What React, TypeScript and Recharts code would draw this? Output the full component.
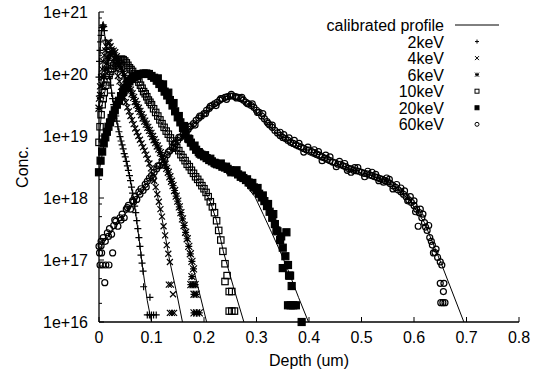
import React from "react";
import { ScatterChart, Scatter, XAxis, YAxis, Legend } from "recharts";

const FONT = "'Liberation Sans', Arial, Helvetica, sans-serif";
const INK = "#000";

const X_TICKS = [0, 0.1, 0.2, 0.3, 0.4, 0.5, 0.6, 0.7, 0.8];
const X_LABELS = ["0", "0.1", "0.2", "0.3", "0.4", "0.5", "0.6", "0.7", "0.8"];
const Y_MAJOR = [1e16, 1e17, 1e18, 1e19, 1e20, 1e21];
const Y_LABELS = ["1e+16", "1e+17", "1e+18", "1e+19", "1e+20", "1e+21"];
const Y_MINOR = [
  2e16, 5e16, 8e16, 2e17, 5e17, 8e17, 2e18, 5e18, 8e18,
  2e19, 5e19, 8e19, 2e20, 5e20, 8e20,
];

// measured points: [depth um, concentration]
const KEV2: [number, number][] = [
  [0.000, 8.9e19], [0.001, 1.6e20], [0.002, 2.4e20], [0.003, 3.3e20], [0.004, 4.2e20],
  [0.005, 5.0e20], [0.006, 5.6e20], [0.007, 6.0e20], [0.008, 6.2e20], [0.009, 5.8e20],
  [0.010, 5.0e20], [0.012, 3.5e20], [0.014, 2.5e20], [0.016, 1.8e20], [0.018, 1.26e20],
  [0.020, 9.1e19], [0.022, 6.6e19], [0.024, 4.9e19], [0.026, 4.0e19], [0.028, 3.2e19],
  [0.030, 2.6e19], [0.032, 2.1e19], [0.034, 1.74e19], [0.036, 1.41e19], [0.038, 1.17e19],
  [0.040, 9.8e18], [0.042, 8.3e18], [0.044, 7.2e18], [0.046, 6.2e18], [0.048, 5.2e18],
  [0.050, 4.6e18], [0.052, 3.9e18], [0.054, 3.3e18], [0.056, 2.8e18], [0.058, 2.3e18],
  [0.060, 1.9e18], [0.062, 1.5e18], [0.064, 1.2e18], [0.066, 9.5e17], [0.068, 7.4e17],
  [0.070, 5.8e17], [0.072, 4.3e17], [0.074, 3.2e17], [0.076, 2.3e17], [0.078, 1.66e17],
  [0.080, 1.2e17], [0.082, 8.9e16], [0.084, 6.6e16], [0.085, 3.7e16], [0.097, 2.5e16],
  [0.092, 1.3e16], [0.096, 1.3e16], [0.100, 1.3e16], [0.104, 1.3e16], [0.109, 1.3e16],
];

const KEV4: [number, number][] = [
  [0.000, 4.0e19], [0.002, 6.3e19], [0.004, 8.9e19], [0.006, 1.2e20], [0.008, 1.6e20],
  [0.010, 2.0e20], [0.012, 2.4e20], [0.014, 2.8e20], [0.016, 3.2e20], [0.018, 3.3e20],
  [0.020, 3.2e20], [0.022, 2.8e20], [0.024, 2.5e20], [0.026, 2.1e20], [0.028, 1.8e20],
  [0.030, 1.5e20], [0.033, 1.17e20], [0.036, 9.3e19], [0.039, 7.6e19], [0.042, 6.2e19],
  [0.045, 5.0e19], [0.048, 4.2e19], [0.051, 3.5e19], [0.054, 2.9e19], [0.057, 2.5e19],
  [0.060, 2.1e19], [0.063, 1.8e19], [0.066, 1.55e19], [0.069, 1.32e19], [0.072, 1.15e19],
  [0.075, 1.0e19], [0.078, 8.7e18], [0.081, 7.6e18], [0.084, 6.6e18], [0.087, 5.8e18],
  [0.090, 5.0e18], [0.093, 4.3e18], [0.096, 3.6e18], [0.099, 3.0e18], [0.102, 2.4e18],
  [0.105, 1.9e18], [0.108, 1.5e18], [0.111, 1.15e18], [0.114, 8.7e17], [0.117, 6.6e17],
  [0.120, 5.0e17], [0.123, 3.5e17], [0.126, 2.5e17], [0.129, 1.74e17], [0.132, 1.26e17],
  [0.135, 9.3e16], [0.133, 4.0e16], [0.137, 4.0e16], [0.141, 2.8e16], [0.135, 1.4e16],
  [0.139, 1.4e16], [0.143, 1.4e16],
];

const KEV6: [number, number][] = [
  [0.000, 2.8e19], [0.003, 4.5e19], [0.006, 6.6e19], [0.009, 9.1e19], [0.012, 1.2e20],
  [0.015, 1.5e20], [0.018, 1.8e20], [0.021, 2.1e20], [0.024, 2.3e20], [0.027, 2.34e20],
  [0.030, 2.2e20], [0.033, 1.9e20], [0.036, 1.66e20], [0.039, 1.45e20], [0.042, 1.26e20],
  [0.045, 1.1e20], [0.048, 9.5e19], [0.051, 8.3e19], [0.054, 7.2e19], [0.057, 6.3e19],
  [0.060, 5.5e19], [0.063, 4.8e19], [0.066, 4.2e19], [0.069, 3.6e19], [0.072, 3.2e19],
  [0.075, 2.8e19], [0.078, 2.5e19], [0.081, 2.2e19], [0.084, 1.95e19], [0.087, 1.74e19],
  [0.090, 1.55e19], [0.093, 1.38e19], [0.096, 1.23e19], [0.099, 1.1e19], [0.102, 9.8e18],
  [0.105, 8.7e18], [0.108, 7.8e18], [0.111, 6.9e18], [0.114, 6.2e18], [0.117, 5.4e18],
  [0.120, 4.7e18], [0.123, 4.1e18], [0.126, 3.5e18], [0.129, 3.0e18], [0.132, 2.6e18],
  [0.135, 2.2e18], [0.138, 1.86e18], [0.141, 1.58e18], [0.144, 1.32e18], [0.147, 1.07e18],
  [0.150, 8.9e17], [0.153, 7.2e17], [0.156, 5.8e17], [0.159, 4.6e17], [0.162, 3.6e17],
  [0.165, 2.8e17], [0.168, 2.2e17], [0.171, 1.66e17], [0.174, 1.26e17], [0.177, 9.5e16],
  [0.180, 7.2e16], [0.177, 5.4e16], [0.175, 4.0e16], [0.179, 4.0e16], [0.183, 4.0e16],
  [0.181, 2.8e16], [0.185, 2.8e16], [0.181, 1.4e16], [0.186, 1.4e16], [0.191, 1.4e16],
];

const KEV10: [number, number][] = [
  [0.000, 7.9e18], [0.002, 1.41e19], [0.004, 2.2e19], [0.006, 3.2e19], [0.008, 4.0e19],
  [0.010, 5.0e19], [0.013, 6.6e19], [0.016, 8.1e19], [0.019, 9.5e19], [0.022, 1.1e20],
  [0.025, 1.23e20], [0.028, 1.35e20], [0.031, 1.48e20], [0.034, 1.58e20], [0.037, 1.66e20],
  [0.040, 1.7e20], [0.043, 1.74e20], [0.046, 1.7e20], [0.049, 1.62e20], [0.052, 1.51e20],
  [0.055, 1.38e20], [0.058, 1.26e20], [0.061, 1.18e20], [0.064, 1.1e20], [0.067, 1.0e20],
  [0.070, 9.1e19], [0.073, 8.3e19], [0.076, 7.4e19], [0.079, 6.6e19], [0.082, 5.9e19],
  [0.085, 5.2e19], [0.088, 4.8e19], [0.091, 4.3e19], [0.094, 3.8e19], [0.097, 3.5e19],
  [0.100, 3.2e19], [0.104, 2.75e19], [0.108, 2.4e19], [0.112, 2.1e19], [0.116, 1.82e19],
  [0.120, 1.58e19], [0.124, 1.38e19], [0.128, 1.2e19], [0.132, 1.07e19], [0.136, 9.3e18],
  [0.140, 8.3e18], [0.144, 7.2e18], [0.148, 6.5e18], [0.152, 5.8e18], [0.156, 5.0e18],
  [0.160, 4.5e18], [0.164, 4.0e18], [0.168, 3.5e18], [0.172, 3.2e18], [0.176, 2.8e18],
  [0.180, 2.5e18], [0.184, 2.2e18], [0.188, 2.0e18], [0.192, 1.78e18], [0.196, 1.58e18],
  [0.200, 1.41e18], [0.204, 1.23e18], [0.208, 1.05e18], [0.212, 8.7e17], [0.216, 7.2e17],
  [0.220, 5.8e17], [0.224, 4.3e17], [0.228, 3.0e17], [0.232, 2.1e17], [0.236, 1.38e17],
  [0.240, 8.7e16], [0.240, 4.5e16], [0.244, 5.6e16], [0.248, 3.1e16], [0.253, 3.1e16],
  [0.248, 1.5e16], [0.253, 1.5e16], [0.258, 1.5e16],
];

const KEV20: [number, number][] = [
  [0.000, 2.6e18], [0.003, 4.0e18], [0.006, 5.6e18], [0.009, 7.6e18], [0.012, 9.5e18],
  [0.015, 1.17e19], [0.018, 1.41e19], [0.021, 1.66e19], [0.024, 1.95e19], [0.027, 2.2e19],
  [0.030, 2.6e19], [0.034, 3.2e19], [0.038, 3.7e19], [0.042, 4.4e19], [0.046, 5.1e19],
  [0.050, 5.9e19], [0.054, 6.8e19], [0.058, 7.6e19], [0.062, 8.3e19], [0.066, 8.9e19],
  [0.070, 9.3e19], [0.075, 9.8e19], [0.080, 1.0e20], [0.085, 1.02e20], [0.090, 1.02e20],
  [0.095, 1.0e20], [0.100, 9.3e19], [0.105, 8.7e19], [0.110, 7.8e19], [0.115, 6.9e19],
  [0.120, 6.0e19], [0.125, 5.2e19], [0.130, 4.5e19], [0.135, 3.8e19], [0.140, 3.1e19],
  [0.145, 2.5e19], [0.150, 2.0e19], [0.155, 1.66e19], [0.160, 1.35e19], [0.165, 1.1e19],
  [0.170, 9.1e18], [0.175, 7.8e18], [0.180, 6.8e18], [0.185, 6.0e18], [0.190, 5.5e18],
  [0.195, 5.0e18], [0.200, 4.7e18], [0.205, 4.4e18], [0.210, 4.1e18], [0.215, 3.9e18],
  [0.220, 3.7e18], [0.225, 3.5e18], [0.230, 3.4e18], [0.235, 3.2e18], [0.240, 3.1e18],
  [0.245, 2.95e18], [0.250, 2.8e18], [0.255, 2.7e18], [0.260, 2.6e18], [0.265, 2.4e18],
  [0.270, 2.2e18], [0.275, 2.1e18], [0.280, 1.95e18], [0.285, 1.78e18], [0.290, 1.62e18],
  [0.295, 1.48e18], [0.300, 1.32e18], [0.305, 1.17e18], [0.310, 1.02e18], [0.315, 8.9e17],
  [0.320, 7.4e17], [0.325, 6.0e17], [0.330, 4.8e17], [0.335, 3.8e17], [0.340, 2.9e17],
  [0.345, 2.1e17], [0.350, 1.58e17], [0.355, 1.15e17], [0.360, 8.3e16], [0.364, 5.6e16],
  [0.367, 3.8e16], [0.357, 2.8e17], [0.350, 7.4e16], [0.362, 5.6e16], [0.360, 1.86e16],
  [0.365, 1.86e16], [0.370, 1.86e16], [0.375, 1.86e16], [0.386, 1.0e16],
  [0.112, 8.5e19], [0.122, 6.8e19], [0.132, 5.0e19], [0.142, 3.4e19], [0.152, 2.1e19],
  [0.162, 1.45e19], [0.172, 8.9e18], [0.182, 7.0e18], [0.192, 5.2e18], [0.202, 4.9e18],
  [0.212, 4.3e18], [0.222, 3.6e18], [0.232, 3.6e18], [0.242, 3.2e18], [0.252, 2.6e18],
  [0.262, 2.8e18], [0.272, 2.3e18], [0.282, 2.0e18], [0.292, 1.75e18], [0.302, 1.45e18],
  [0.312, 1.1e18], [0.322, 8.0e17], [0.332, 5.5e17], [0.338, 3.0e17], [0.347, 2.4e17],
];

const KEV60: [number, number][] = [
  [0.002, 8.3e16], [0.007, 8.3e16], [0.013, 8.3e16], [0.019, 8.3e16], [0.001, 1.3e17],
  [0.005, 1.3e17], [0.026, 1.3e17], [0.011, 4.3e16], [0.004, 1.7e17],
  [0.000, 1.66e17], [0.004, 2.0e17], [0.008, 2.3e17], [0.012, 2.0e17], [0.016, 2.75e17],
  [0.020, 3.2e17], [0.024, 2.6e17], [0.028, 3.6e17], [0.032, 4.2e17], [0.036, 3.5e17],
  [0.040, 4.8e17], [0.044, 5.5e17], [0.048, 4.8e17], [0.052, 6.6e17], [0.056, 7.6e17],
  [0.060, 6.6e17], [0.064, 9.1e17], [0.068, 1.05e18], [0.072, 9.5e17], [0.076, 1.26e18],
  [0.080, 1.41e18], [0.084, 1.32e18], [0.088, 1.66e18], [0.092, 1.86e18], [0.096, 2.1e18],
  [0.100, 2.3e18], [0.105, 2.6e18], [0.110, 2.95e18], [0.115, 3.3e18], [0.120, 3.8e18],
  [0.125, 4.3e18], [0.130, 5.0e18], [0.135, 5.8e18], [0.140, 6.6e18], [0.145, 7.6e18],
  [0.150, 8.5e18], [0.155, 9.5e18], [0.160, 1.05e19], [0.165, 1.15e19], [0.170, 1.29e19],
  [0.175, 1.45e19], [0.180, 1.58e19], [0.185, 1.78e19], [0.190, 1.95e19], [0.195, 2.1e19],
  [0.200, 2.3e19], [0.205, 2.6e19], [0.210, 2.8e19], [0.215, 3.1e19], [0.220, 3.3e19],
  [0.225, 3.5e19], [0.230, 3.8e19], [0.235, 4.0e19], [0.240, 4.2e19], [0.245, 4.3e19],
  [0.250, 4.4e19], [0.255, 4.4e19], [0.260, 4.3e19], [0.265, 4.2e19], [0.270, 4.0e19],
  [0.275, 3.8e19], [0.280, 3.5e19], [0.285, 3.3e19], [0.290, 3.1e19], [0.295, 2.9e19],
  [0.300, 2.6e19], [0.305, 2.4e19], [0.310, 2.1e19], [0.315, 1.9e19], [0.320, 1.7e19],
  [0.325, 1.5e19], [0.330, 1.38e19], [0.335, 1.23e19], [0.340, 1.12e19], [0.345, 1.02e19],
  [0.350, 9.5e18], [0.355, 9.1e18], [0.360, 8.5e18], [0.365, 7.9e18], [0.370, 7.6e18],
  [0.375, 7.2e18], [0.380, 6.9e18], [0.385, 6.6e18], [0.390, 6.3e18], [0.395, 6.0e18],
  [0.400, 5.9e18], [0.405, 5.6e18], [0.410, 5.4e18], [0.415, 5.1e18], [0.420, 4.9e18],
  [0.425, 4.6e18], [0.430, 4.4e18], [0.435, 4.2e18], [0.440, 4.0e18], [0.445, 3.8e18],
  [0.450, 3.7e18], [0.455, 3.5e18], [0.460, 3.5e18], [0.465, 3.3e18], [0.470, 3.2e18],
  [0.475, 3.0e18], [0.480, 2.95e18], [0.485, 2.8e18], [0.490, 2.75e18], [0.495, 2.7e18],
  [0.500, 2.6e18], [0.505, 2.5e18], [0.510, 2.45e18], [0.515, 2.35e18], [0.520, 2.3e18],
  [0.525, 2.2e18], [0.530, 2.15e18], [0.535, 2.05e18], [0.540, 2.0e18], [0.545, 1.9e18],
  [0.550, 1.82e18], [0.555, 1.7e18], [0.560, 1.58e18], [0.565, 1.48e18], [0.570, 1.35e18],
  [0.575, 1.26e18], [0.580, 1.15e18], [0.585, 1.05e18], [0.590, 9.3e17], [0.595, 8.5e17],
  [0.600, 7.6e17], [0.605, 6.6e17], [0.610, 5.8e17], [0.615, 4.8e17], [0.620, 4.0e17],
  [0.625, 3.0e17], [0.630, 2.3e17], [0.635, 1.74e17], [0.640, 1.32e17], [0.645, 1.1e17],
  [0.650, 9.3e16], [0.653, 8.3e16],
  [0.103, 2.1e18], [0.112, 3.3e18], [0.122, 3.4e18], [0.132, 5.5e18], [0.143, 6.3e18],
  [0.152, 9.5e18], [0.163, 1.0e19], [0.172, 1.4e19], [0.183, 1.5e19], [0.192, 2.1e19],
  [0.203, 2.3e19], [0.212, 3.0e19], [0.223, 3.1e19], [0.232, 4.0e19], [0.243, 3.9e19],
  [0.252, 4.7e19], [0.262, 4.1e19], [0.272, 4.2e19], [0.283, 3.3e19], [0.292, 3.3e19],
  [0.302, 2.4e19], [0.312, 2.3e19], [0.322, 1.6e19],
  [0.345, 1.15e19], [0.372, 8.5e18], [0.390, 5.5e18], [0.410, 6.0e18], [0.425, 4.0e18],
  [0.440, 4.6e18], [0.452, 3.2e18], [0.468, 3.6e18], [0.480, 2.6e18], [0.493, 3.1e18],
  [0.506, 2.2e18], [0.520, 2.6e18], [0.533, 1.9e18], [0.548, 2.1e18], [0.560, 1.4e18],
  [0.575, 1.45e18], [0.588, 9.0e17], [0.600, 9.0e17], [0.608, 3.5e17], [0.617, 5.5e17],
  [0.622, 3.4e17], [0.628, 3.6e17], [0.633, 2.0e17], [0.642, 1.5e17],
  [0.650, 4.2e16], [0.657, 4.2e16], [0.656, 3.1e16], [0.651, 2.05e16], [0.655, 2.05e16],
  [0.659, 2.05e16],
  [0.018, 2.4e17], [0.030, 4.4e17], [0.042, 4.4e17], [0.054, 7.0e17], [0.066, 8.7e17],
  [0.078, 1.15e18], [0.090, 1.5e18], [0.330, 1.5e19], [0.352, 1.05e19], [0.362, 9.3e18],
  [0.381, 7.6e18], [0.398, 6.6e18], [0.418, 5.6e18], [0.432, 4.9e18], [0.458, 3.9e18],
  [0.473, 2.8e18], [0.487, 3.1e18], [0.512, 2.7e18], [0.527, 2.4e18], [0.542, 1.8e18],
  [0.553, 2.0e18], [0.567, 1.65e18], [0.582, 1.3e18], [0.593, 1.05e18], [0.603, 6.0e17],
  [0.612, 6.6e17], [0.637, 1.3e17],
];

// calibrated profiles
const CAL2: [number, number][] = [
  [0.000, 9.0e19], [0.003, 3.3e20], [0.006, 5.6e20], [0.008, 6.2e20], [0.010, 5.0e20],
  [0.014, 2.5e20], [0.020, 9.1e19], [0.028, 3.2e19], [0.036, 1.41e19], [0.044, 7.2e18],
  [0.052, 3.9e18], [0.060, 1.9e18], [0.068, 7.4e17], [0.076, 2.3e17], [0.084, 6.6e16],
  [0.092, 2.2e16], [0.100, 1.0e16],
];
const CAL4: [number, number][] = [
  [0.000, 4.0e19], [0.008, 1.6e20], [0.014, 2.8e20], [0.018, 3.3e20], [0.024, 2.5e20],
  [0.030, 1.5e20], [0.042, 6.2e19], [0.054, 2.9e19], [0.066, 1.55e19], [0.078, 8.7e18],
  [0.090, 5.0e18], [0.102, 2.4e18], [0.114, 8.7e17], [0.126, 2.5e17], [0.135, 9.3e16],
  [0.147, 3.2e16], [0.159, 1.0e16],
];
const CAL6: [number, number][] = [
  [0.000, 2.8e19], [0.012, 1.2e20], [0.027, 2.34e20], [0.036, 1.66e20], [0.048, 9.5e19],
  [0.060, 5.5e19], [0.075, 2.8e19], [0.090, 1.55e19], [0.105, 8.7e18], [0.120, 4.7e18],
  [0.135, 2.2e18], [0.150, 8.9e17], [0.165, 2.8e17], [0.180, 7.2e16], [0.192, 2.8e16],
  [0.205, 1.0e16],
];
const CAL10: [number, number][] = [
  [0.000, 7.9e18], [0.006, 3.2e19], [0.016, 8.1e19], [0.028, 1.35e20], [0.043, 1.74e20],
  [0.055, 1.38e20], [0.070, 9.1e19], [0.085, 5.2e19], [0.100, 3.2e19], [0.120, 1.58e19],
  [0.140, 8.3e18], [0.160, 4.5e18], [0.180, 2.5e18], [0.200, 1.41e18], [0.212, 8.7e17],
  [0.224, 4.3e17], [0.237, 1.35e17], [0.256, 3.7e16], [0.276, 1.0e16],
];
const CAL20: [number, number][] = [
  [0.000, 2.6e18], [0.012, 9.5e18], [0.030, 2.6e19], [0.050, 5.9e19], [0.070, 9.3e19],
  [0.088, 1.02e20], [0.105, 8.7e19], [0.125, 5.2e19], [0.145, 2.5e19], [0.165, 1.1e19],
  [0.185, 6.0e18], [0.210, 4.1e18], [0.240, 3.1e18], [0.265, 2.4e18], [0.285, 1.4e18],
  [0.297, 1.05e18], [0.313, 5.4e17], [0.329, 2.75e17], [0.345, 1.38e17], [0.360, 6.9e16],
  [0.380, 2.5e16], [0.399, 1.0e16],
];
const CAL60: [number, number][] = [
  [0.000, 1.5e17], [0.050, 5.5e17], [0.100, 2.2e18], [0.150, 8.3e18], [0.200, 2.3e19],
  [0.250, 4.3e19], [0.280, 3.5e19], [0.310, 2.0e19], [0.340, 1.05e19], [0.370, 6.9e18],
  [0.400, 5.0e18], [0.440, 3.6e18], [0.480, 2.8e18], [0.520, 2.3e18], [0.560, 1.6e18],
  [0.590, 9.5e17], [0.620, 4.0e17], [0.653, 8.3e16], [0.695, 1.0e16],
];

type Kind = "plus" | "cross" | "star" | "box" | "fbox" | "circle";

const SERIES: { name: string; pts: [number, number][]; kind: Kind }[] = [
  { name: "2keV", pts: KEV2, kind: "plus" },
  { name: "4keV", pts: KEV4, kind: "cross" },
  { name: "6keV", pts: KEV6, kind: "star" },
  { name: "10keV", pts: KEV10, kind: "box" },
  { name: "20keV", pts: KEV20, kind: "fbox" },
  { name: "60keV", pts: KEV60, kind: "circle" },
];
const PROFILES = [CAL2, CAL4, CAL6, CAL10, CAL20, CAL60];

const toRows = (a: [number, number][]) => a.map(([d, c]) => ({ d, c }));

function Mark({ kind, x, y, h, w = 1 }: { kind: Kind; x: number; y: number; h: number; w?: number }) {
  const s = { stroke: INK, strokeWidth: w, fill: "none" };
  const plus = `M${x - h} ${y}H${x + h}M${x} ${y - h}V${y + h}`;
  const cross = `M${x - h} ${y - h}L${x + h} ${y + h}M${x - h} ${y + h}L${x + h} ${y - h}`;
  switch (kind) {
    case "plus":
      return <path d={plus} {...s} />;
    case "cross":
      return <path d={cross} {...s} />;
    case "star":
      return <path d={plus + cross} {...s} />;
    case "box":
      return <rect x={x - h} y={y - h} width={2 * h} height={2 * h} {...s} />;
    case "fbox":
      return <rect x={x - h} y={y - h} width={2 * h} height={2 * h} {...s} fill={INK} />;
    default:
      return <circle cx={x} cy={y} r={h} {...s} />;
  }
}

const SIZE: Record<Kind, number> = { plus: 3.5, cross: 3, star: 3.5, box: 3.2, fbox: 3.5, circle: 3 };

const textStyle = { fontFamily: FONT, fontSize: 16, fill: INK };
const isMajor = (v: number) => Y_MAJOR.indexOf(v) >= 0;

function LeftTick({ x, y, payload }: any) {
  const v = payload.value;
  const major = isMajor(v);
  return (
    <g>
      <line x1={x} x2={x + (major ? 5 : 3)} y1={y} y2={y} stroke={INK} />
      {major && (
        <text x={x - 11} y={y + 6} textAnchor="end" {...textStyle}>
          {Y_LABELS[Y_MAJOR.indexOf(v)]}
        </text>
      )}
    </g>
  );
}

function RightTick({ x, y, payload }: any) {
  const major = isMajor(payload.value);
  return <line x1={x} x2={x - (major ? 5 : 3)} y1={y} y2={y} stroke={INK} />;
}

function BottomTick({ x, y, payload }: any) {
  const i = X_TICKS.indexOf(payload.value);
  return (
    <g>
      <line x1={x} x2={x} y1={y} y2={y - 5} stroke={INK} />
      <text x={x} y={y + 21} textAnchor="middle" {...textStyle}>
        {X_LABELS[i]}
      </text>
    </g>
  );
}

function TopTick({ x, y }: any) {
  return <line x1={x} x2={x} y1={y} y2={y + 5} stroke={INK} />;
}

function KeyBox() {
  const row = 16.55;
  const y0 = 11;
  return (
    <svg width={220} height={125} style={{ display: "block", overflow: "visible" }}>
      <text x={144} y={y0 + 6} textAnchor="end" {...textStyle}>
        calibrated profile
      </text>
      <line x1={155} x2={199} y1={y0} y2={y0} stroke={INK} />
      {SERIES.map((s, i) => (
        <g key={s.name}>
          <text x={144} y={y0 + (i + 1) * row + 6} textAnchor="end" {...textStyle}>
            {s.name}
          </text>
          <Mark kind={s.kind} x={177} y={y0 + (i + 1) * row} h={2} />
        </g>
      ))}
    </svg>
  );
}

export default function App() {
  return (
    <div style={{ position: "absolute", left: 0, top: 0, width: 537, height: 376, background: "#fff" }}>
      <ScatterChart width={537} height={376} margin={{ top: 12, right: 18, bottom: 0, left: 0 }}>
        <XAxis
          type="number"
          dataKey="d"
          domain={[0, 0.8]}
          ticks={X_TICKS}
          interval={0}
          height={54}
          tickSize={0}
          tickMargin={0}
          tickLine={false}
          axisLine={{ stroke: INK, strokeWidth: 1.3 }}
          tick={<BottomTick />}
          label={({ viewBox }: any) => (
            <text x={viewBox.x + viewBox.width / 2} y={viewBox.y + 44} textAnchor="middle" {...textStyle}>
              Depth (um)
            </text>
          )}
        />
        <XAxis
          xAxisId="top"
          orientation="top"
          mirror
          type="number"
          domain={[0, 0.8]}
          ticks={X_TICKS}
          interval={0}
          height={0}
          tickSize={0}
          tickMargin={0}
          tickLine={false}
          axisLine={{ stroke: INK, strokeWidth: 1.3 }}
          tick={<TopTick />}
        />
        <YAxis
          type="number"
          dataKey="c"
          scale="log"
          domain={[1e16, 1e21]}
          ticks={[...Y_MAJOR, ...Y_MINOR]}
          interval={0}
          width={99}
          tickSize={0}
          tickMargin={0}
          tickLine={false}
          axisLine={{ stroke: INK, strokeWidth: 1.3 }}
          tick={<LeftTick />}
          label={({ viewBox }: any) => (
            <text
              transform={`translate(${viewBox.x + 28}, ${viewBox.y + viewBox.height / 2}) rotate(-90)`}
              textAnchor="middle"
              {...textStyle}
            >
              Conc.
            </text>
          )}
        />
        <YAxis
          yAxisId="right"
          orientation="right"
          mirror
          type="number"
          scale="log"
          domain={[1e16, 1e21]}
          ticks={[...Y_MAJOR, ...Y_MINOR]}
          interval={0}
          width={0}
          tickSize={0}
          tickMargin={0}
          tickLine={false}
          axisLine={{ stroke: INK, strokeWidth: 1.3 }}
          tick={<RightTick />}
        />
        {PROFILES.map((p, i) => (
          <Scatter
            key={"cal" + i}
            data={toRows(p)}
            line={{ stroke: INK, strokeWidth: 1 }}
            shape={() => <g />}
            isAnimationActive={false}
          />
        ))}
        {SERIES.map((s) => (
          <Scatter
            key={s.name}
            name={s.name}
            data={toRows(s.pts)}
            shape={(p: any) => <Mark kind={s.kind} x={p.cx} y={p.cy} h={SIZE[s.kind]} w={1.2} />}
            isAnimationActive={false}
          />
        ))}
        <Legend
          layout="vertical"
          align="center"
          verticalAlign="middle"
          wrapperStyle={{ left: 300, top: 14, width: 220 }}
          content={() => <KeyBox />}
        />
      </ScatterChart>
    </div>
  );
}
